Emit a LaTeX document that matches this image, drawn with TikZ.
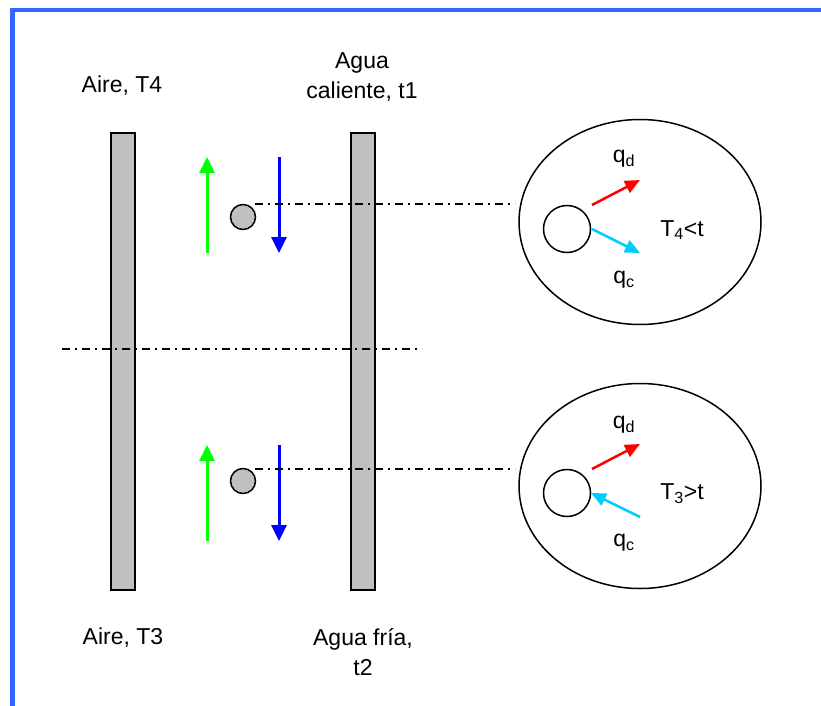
\documentclass[tikz,border=0pt]{standalone}
\usepackage{fontspec}
\setmainfont{Liberation Sans}
\usetikzlibrary{arrows.meta,shapes.geometric}
\definecolor{frameblue}{RGB}{51,102,255}
\definecolor{bargray}{RGB}{192,192,192}
\definecolor{arrgreen}{RGB}{0,255,0}
\definecolor{arrblue}{RGB}{0,0,255}
\definecolor{arrred}{RGB}{255,0,0}
\definecolor{arrcyan}{RGB}{0,204,255}
\begin{document}
\begin{tikzpicture}[x=1pt,y=-1pt,
  bar/.style={draw=black,line width=1.5pt,fill=bargray,minimum width=24pt,minimum height=457pt,inner sep=0pt},
  drop/.style={circle,draw=black,line width=1.5pt,fill=bargray,minimum size=25pt,inner sep=0pt},
  bigell/.style={ellipse,draw=black,line width=1.5pt,minimum width=242pt,minimum height=205pt,inner sep=0pt},
  smallc/.style={circle,draw=black,line width=1.5pt,fill=white,minimum size=47pt,inner sep=0pt},
  lbl/.style={align=center,inner sep=0pt,font=\fontsize{23}{30}\selectfont},
  flow/.style={line width=3pt,-{Triangle[length=16pt,width=15pt]}},
  heat/.style={line width=2.5pt,-{Triangle[length=15pt,width=13pt]}},
  dashdot/.style={line width=1.5pt,dash pattern=on 8pt off 5pt on 2pt off 5pt}]
\useasboundingbox (0,0) rectangle (821,706);
\draw[frameblue,line width=4.5pt] (12.5,706) -- (12.5,10) -- (821,10);

% bars
\node[bar] (barL) at (123,361.5) {};
\node[bar] (barR) at (363,361.5) {};

% labels
\node[lbl] (lT4) at (122,86) {Aire, T4};
\node[lbl] (lt1) at (362,77) {Agua\\caliente, t1};
\node[lbl] (lT3) at (123,638) {Aire, T3};
\node[lbl] (lt2) at (363,652) {Agua fría,\\t2};

% middle dash-dot line
\coordinate (mL) at (62,349);
\coordinate (mR) at (422,349);
\draw[dashdot] (mL) -- (mR);

% top section
\node[drop] (d1) at (243,217) {};
\coordinate (g1s) at (207,253);
\coordinate (g1e) at (207,157);
\coordinate (b1s) at (279,157);
\coordinate (b1e) at (279,253);
\draw[flow,arrgreen] (g1s) -- (g1e);
\draw[flow,arrblue] (b1s) -- (b1e);
\coordinate (h1s) at (255,204);
\coordinate (h1e) at (515,204);
\draw[dashdot] (h1s) -- (h1e);

\node[bigell] (e1) at (640,222) {};
\node[smallc] (c1) at (567,229) {};
\coordinate (r1s) at (592,205);
\coordinate (r1e) at (640,180);
\draw[heat,arrred] (r1s) -- (r1e);
\coordinate (k1s) at (592,229);
\coordinate (k1e) at (640,253);
\draw[heat,arrcyan] (k1s) -- (k1e);
\node[lbl] (qd1) at (624,159) {q\textsubscript{d}};
\node[lbl] (qc1) at (624,280) {q\textsubscript{c}};
\node[lbl] (T4t) at (682,230) {T\textsubscript{4}<t};

% bottom section
\node[drop] (d2) at (243,481) {};
\coordinate (g2s) at (207,541);
\coordinate (g2e) at (207,445);
\coordinate (b2s) at (279,445);
\coordinate (b2e) at (279,541);
\draw[flow,arrgreen] (g2s) -- (g2e);
\draw[flow,arrblue] (b2s) -- (b2e);
\coordinate (h2s) at (255,469);
\coordinate (h2e) at (515,469);
\draw[dashdot] (h2s) -- (h2e);

\node[bigell] (e2) at (640,486) {};
\node[smallc] (c2) at (567,493) {};
\coordinate (r2s) at (592,469);
\coordinate (r2e) at (640,444);
\draw[heat,arrred] (r2s) -- (r2e);
\coordinate (k2s) at (640,517);
\coordinate (k2e) at (591,493);
\draw[heat,arrcyan] (k2s) -- (k2e);
\node[lbl] (qd2) at (624,425) {q\textsubscript{d}};
\node[lbl] (qc2) at (624,543) {q\textsubscript{c}};
\node[lbl] (T3t) at (682,494) {T\textsubscript{3}>t};
\end{tikzpicture}
\end{document}
